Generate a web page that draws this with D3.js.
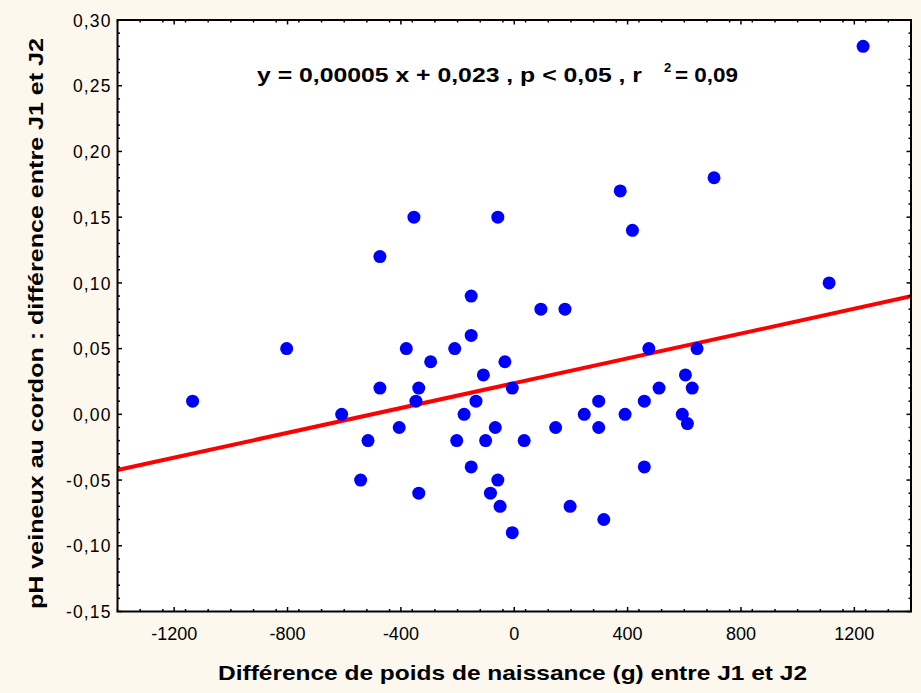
<!DOCTYPE html>
<html>
<head>
<meta charset="utf-8">
<script src="https://cdn.jsdelivr.net/npm/d3@7"></script>
<style>
  html, body { margin: 0; padding: 0; background: #fcf8ee; }
  svg { display: block; }
  text { font-family: "Liberation Sans", Arial, sans-serif; }
</style>
</head>
<body>
<svg id="chart" width="921" height="693"></svg>
<script>
// ---- data ----
const weightDiff = [-1135, -803, -609, -516, -542, -474, -474, -354, -406, -381,
  -337, -347, -337, -295, -210, -203, -177, -152, -152, -135,
  -152, -109, -101, -84, -58, -67, -58, -50, -33, -7,
  -7, 35, 94, 146, 179, 197, 247, 298, 298, 316,
  374, 391, 417, 459, 459, 475, 511, 593, 604, 611,
  628, 645, 705, 1111, 1231];
const phDiff = [0.01, 0.05, 0.00, -0.02, -0.05, 0.12, 0.02, 0.15, -0.01, 0.05,
  0.02, 0.01, -0.06, 0.04, 0.05, -0.02, 0.00, 0.09, 0.06, 0.01,
  -0.04, 0.03, -0.02, -0.06, 0.15, -0.01, -0.05, -0.07, 0.04, 0.02,
  -0.09, -0.02, 0.08, -0.01, 0.08, -0.07, 0.00, 0.01, -0.01, -0.08,
  0.17, 0.00, 0.14, 0.01, -0.04, 0.05, 0.02, 0.00, 0.03, -0.007,
  0.02, 0.05, 0.18, 0.10, 0.28];
const xTicks = [-1200, -800, -400, 0, 400, 800, 1200];
const yTicks = [-0.15, -0.10, -0.05, 0.00, 0.05, 0.10, 0.15, 0.20, 0.25, 0.30];
const xDomain = [-1400, 1400];
const yDomain = [-0.15, 0.30];
const fitSlope = 0.0000472;
const fitIntercept = 0.0237;
const xTitle = "Différence de poids de naissance (g) entre J1 et J2";
const yTitle = "pH veineux au cordon : différence entre J1 et J2";
const eqMain = "y = 0,00005 x + 0,023 , p < 0,05 , r";
const eqSup = "2";
const eqEnd = "= 0,09";

// ---- layout ----
const L = 117.5, R = 911, T = 20, B = 611.5;
const svg = d3.select("#chart");
const x = d3.scaleLinear().domain(xDomain).range([L, R]);
const y = d3.scaleLinear().domain(yDomain).range([B, T]);

svg.append("rect").attr("x", L).attr("y", T).attr("width", R - L).attr("height", B - T)
  .attr("fill", "#ffffff");

const clip = svg.append("clipPath").attr("id", "clip");
clip.append("rect").attr("x", L).attr("y", T).attr("width", R - L).attr("height", B - T);

const plot = svg.append("g").attr("clip-path", "url(#clip)");

// regression line
plot.append("line")
  .attr("x1", x(xDomain[0])).attr("y1", y(fitSlope * xDomain[0] + fitIntercept))
  .attr("x2", x(xDomain[1])).attr("y2", y(fitSlope * xDomain[1] + fitIntercept))
  .attr("stroke", "#ff0000").attr("stroke-width", 4);

// points
const pts = weightDiff.map((v, i) => [v, phDiff[i]]);
plot.selectAll("circle").data(pts).join("circle")
  .attr("cx", d => x(d[0])).attr("cy", d => y(d[1])).attr("r", 6.5)
  .attr("fill", "#0000ff");

// minor ticks
const xMinor = d3.range(xDomain[0], xDomain[1] + 1, 80).filter(v => !xTicks.includes(v));
const yMinor = d3.range(-15, 31, 1).map(v => v / 100).filter(v => !yTicks.some(t => Math.abs(t - v) < 1e-9));

const tk = svg.append("g").attr("stroke", "#000").attr("stroke-width", 1.5);
function ticksX(vals, len) {
  vals.forEach(v => {
    tk.append("line").attr("x1", x(v)).attr("x2", x(v)).attr("y1", B).attr("y2", B - len);
    tk.append("line").attr("x1", x(v)).attr("x2", x(v)).attr("y1", T).attr("y2", T + len);
  });
}
function ticksY(vals, len) {
  vals.forEach(v => {
    tk.append("line").attr("y1", y(v)).attr("y2", y(v)).attr("x1", L).attr("x2", L + len);
    tk.append("line").attr("y1", y(v)).attr("y2", y(v)).attr("x1", R).attr("x2", R - len);
  });
}
ticksX(xMinor, 2.5); ticksX(xTicks, 4.5);
ticksY(yMinor, 2.5); ticksY(yTicks, 4.5);

// frame
svg.append("rect").attr("x", L).attr("y", T).attr("width", R - L).attr("height", B - T)
  .attr("fill", "none").attr("stroke", "#000").attr("stroke-width", 2);

// tick labels
const fmtY = d => d3.format(".2f")(d).replace(".", ",").replace("−", "-");
svg.append("g").selectAll("text").data(yTicks).join("text")
  .attr("x", L - 6).attr("y", d => y(d)).attr("dy", "0.38em")
  .attr("text-anchor", "end").attr("font-size", 17.5).attr("letter-spacing", 1.1)
  .attr("fill", "#000").text(fmtY);

svg.append("g").selectAll("text").data(xTicks).join("text")
  .attr("x", d => x(d)).attr("y", 634).attr("dy", "0.36em")
  .attr("text-anchor", "middle").attr("font-size", 18)
  .attr("fill", "#000").text(d => String(d));

// axis titles
svg.append("text").attr("x", 512.5).attr("y", 680)
  .attr("text-anchor", "middle").attr("font-size", 21).attr("font-weight", "bold")
  .attr("textLength", 589).attr("lengthAdjust", "spacingAndGlyphs")
  .text(xTitle);

svg.append("text").attr("transform", "translate(43,323.5) rotate(-90)")
  .attr("text-anchor", "middle").attr("font-size", 21).attr("font-weight", "bold")
  .attr("textLength", 571).attr("lengthAdjust", "spacingAndGlyphs")
  .text(yTitle);

// equation
svg.append("text").attr("x", 257).attr("y", 75).attr("dy", "0.36em")
  .attr("font-size", 19.5).attr("font-weight", "bold")
  .attr("textLength", 385).attr("lengthAdjust", "spacingAndGlyphs")
  .text(eqMain);
svg.append("text").attr("x", 664).attr("y", 67).attr("dy", "0.36em")
  .attr("font-size", 13).attr("font-weight", "bold").text(eqSup);
svg.append("text").attr("x", 675).attr("y", 75).attr("dy", "0.36em")
  .attr("font-size", 19.5).attr("font-weight", "bold")
  .attr("textLength", 63).attr("lengthAdjust", "spacingAndGlyphs")
  .text(eqEnd);
</script>
</body>
</html>
